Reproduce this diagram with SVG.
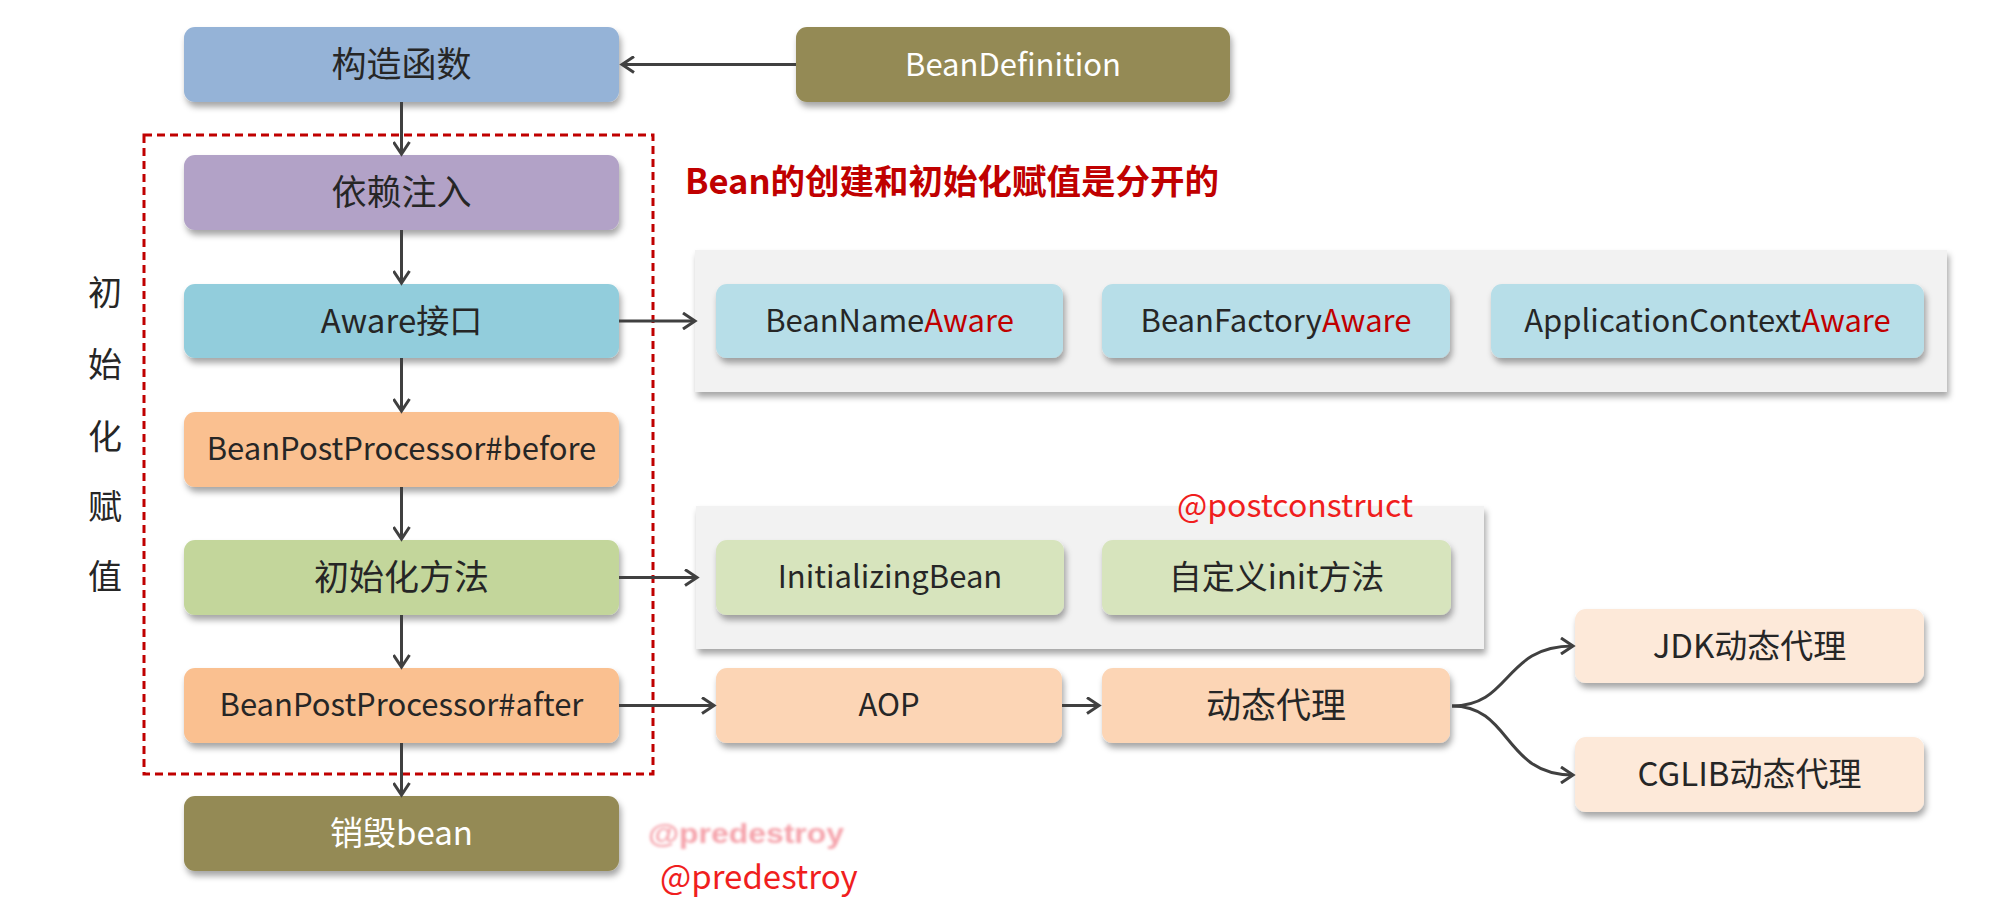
<svg xmlns="http://www.w3.org/2000/svg" width="1993" height="911" viewBox="0 0 1993 911">
<defs>
<filter id="sh" x="-10%" y="-20%" width="125%" height="160%">
<feDropShadow dx="2" dy="5" stdDeviation="3" flood-color="#000" flood-opacity="0.35"/>
</filter>
<filter id="blur" x="-10%" y="-50%" width="120%" height="200%">
<feGaussianBlur stdDeviation="1.6"/>
</filter>
<marker id="ah" markerUnits="userSpaceOnUse" viewBox="0 0 16 18" markerWidth="16" markerHeight="18" refX="13" refY="9" orient="auto">
<path d="M1,1 L13,9 L1,17" fill="none" stroke="#404040" stroke-width="3" stroke-linejoin="miter"/>
</marker>
</defs>
<style>
.box{filter:url(#sh)}
.bg{fill:#F2F2F2;filter:url(#sh)}
text{font-family:"Noto Sans CJK SC","Noto Sans",sans-serif;font-size:33px;fill:#262626;text-anchor:middle}
.lat{font-size:31px}
.w{fill:#FFFFFF}
.red{fill:#C00000}
.conn{stroke:#404040;stroke-width:3;fill:none;marker-end:url(#ah)}
.note{fill:#F01E1E;text-anchor:start}
</style>
<rect width="1993" height="911" fill="#FFFFFF"/>

<g id="grp-aware-bg"><rect class="bg" x="695" y="250" width="1252" height="142"/></g>
<g id="grp-init-bg"><rect class="bg" x="696" y="506" width="788" height="143"/></g>

<g id="ctor"><rect class="box" x="184" y="27" width="435" height="75" rx="11" fill="#95B3D7"/><text x="401.5" y="77" style="font-size:35px">构造函数</text></g>
<g id="beandef"><rect class="box" x="796" y="27" width="434" height="75" rx="11" fill="#948A54"/><text class="w lat" x="1013" y="76">BeanDefinition</text></g>
<g id="di"><rect class="box" x="184" y="155" width="435" height="75" rx="11" fill="#B2A2C7"/><text x="401.5" y="205" style="font-size:35px">依赖注入</text></g>
<g id="aware"><rect class="box" x="184" y="284" width="435" height="74" rx="11" fill="#92CDDC"/><text x="401.5" y="333">Aware接口</text></g>
<g id="bpp-before"><rect class="box" x="184" y="412" width="435" height="75" rx="11" fill="#FAC090"/><text class="lat" x="401.5" y="460">BeanPostProcessor#before</text></g>
<g id="init"><rect class="box" x="184" y="540" width="435" height="75" rx="11" fill="#C3D69B"/><text x="401.5" y="590" style="font-size:35px">初始化方法</text></g>
<g id="bpp-after"><rect class="box" x="184" y="668" width="435" height="75" rx="11" fill="#FAC090"/><text class="lat" x="401.5" y="716">BeanPostProcessor#after</text></g>
<g id="destroy"><rect class="box" x="184" y="796" width="435" height="75" rx="11" fill="#948A54"/><text class="w" x="401.5" y="845">销毁bean</text></g>

<g id="bean-name-aware"><rect class="box" x="716" y="284" width="347" height="74" rx="11" fill="#B7DEE8"/><text class="lat" x="889.5" y="332">BeanName<tspan class="red">Aware</tspan></text></g>
<g id="bean-factory-aware"><rect class="box" x="1102" y="284" width="348" height="74" rx="11" fill="#B7DEE8"/><text class="lat" x="1276" y="332">BeanFactory<tspan class="red">Aware</tspan></text></g>
<g id="app-ctx-aware"><rect class="box" x="1491" y="284" width="433" height="74" rx="11" fill="#B7DEE8"/><text class="lat" x="1707.5" y="332">ApplicationContext<tspan class="red">Aware</tspan></text></g>

<g id="initializing-bean"><rect class="box" x="716" y="540" width="348" height="75" rx="11" fill="#D7E4BD"/><text class="lat" x="890" y="588">InitializingBean</text></g>
<g id="custom-init"><rect class="box" x="1102" y="540" width="349" height="75" rx="11" fill="#D7E4BD"/><text x="1276.5" y="589">自定义init方法</text></g>

<g id="aop"><rect class="box" x="716" y="668" width="346" height="75" rx="11" fill="#FCD5B5"/><text class="lat" x="889" y="716">AOP</text></g>
<g id="dyn-proxy"><rect class="box" x="1102" y="668" width="348" height="75" rx="11" fill="#FCD5B5"/><text x="1276" y="718" style="font-size:35px">动态代理</text></g>
<g id="jdk-proxy"><rect class="box" x="1575" y="609" width="349" height="74" rx="11" fill="#FDE9D9"/><text x="1749.5" y="658">JDK动态代理</text></g>
<g id="cglib-proxy"><rect class="box" x="1575" y="737" width="349" height="75" rx="11" fill="#FDE9D9"/><text x="1749.5" y="786">CGLIB动态代理</text></g>

<g id="init-region">
<rect x="144" y="135" width="509" height="639" fill="none" stroke="#C00000" stroke-width="3" stroke-dasharray="8,5"/>
<text x="105" y="305" style="font-size:34px">初</text>
<text x="105" y="377" style="font-size:34px">始</text>
<text x="105" y="449" style="font-size:34px">化</text>
<text x="105" y="519" style="font-size:34px">赋</text>
<text x="105" y="589" style="font-size:34px">值</text>
</g>

<g id="labels">
<text class="red" x="952" y="194" style="font-size:34.5px;font-weight:bold">Bean的创建和初始化赋值是分开的</text>
<text class="note" x="1177" y="517" style="font-size:32px">@postconstruct</text>
<text x="648" y="843" textLength="196" lengthAdjust="spacingAndGlyphs" style="font-family:'Liberation Sans',sans-serif;font-size:28px;font-weight:bold;fill:#F5A3AB;text-anchor:start" filter="url(#blur)">@predestroy</text>
<text class="note" x="660" y="889">@predestroy</text>
</g>

<g id="connectors">
<line class="conn" x1="796" y1="64.5" x2="622" y2="64.5"/>
<line class="conn" x1="401.5" y1="102" x2="401.5" y2="154"/>
<line class="conn" x1="401.5" y1="230" x2="401.5" y2="283"/>
<line class="conn" x1="401.5" y1="358" x2="401.5" y2="411"/>
<line class="conn" x1="401.5" y1="487" x2="401.5" y2="539"/>
<line class="conn" x1="401.5" y1="615" x2="401.5" y2="667"/>
<line class="conn" x1="401.5" y1="743" x2="401.5" y2="795"/>
<line class="conn" x1="619" y1="321" x2="695" y2="321"/>
<line class="conn" x1="619" y1="577.5" x2="697" y2="577.5"/>
<line class="conn" x1="619" y1="705.5" x2="714" y2="705.5"/>
<line class="conn" x1="1062" y1="705.5" x2="1099" y2="705.5"/>
<path class="conn" d="M1452,706 C1512,706 1503,646 1573,646"/>
<path class="conn" d="M1452,706 C1512,706 1503,775 1573,775"/>
</g>
</svg>
